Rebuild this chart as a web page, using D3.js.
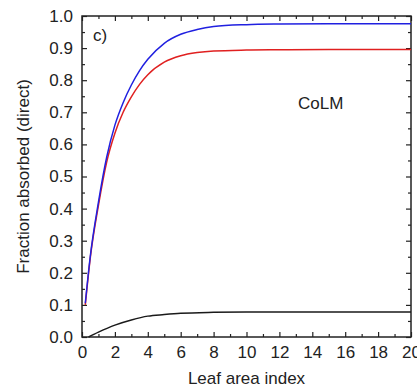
<!DOCTYPE html>
<html>
<head>
<meta charset="utf-8">
<script src="https://cdn.jsdelivr.net/npm/d3@7"></script>
<style>
    body { margin: 0; background: #fff; }
    svg { display: block; font-family: "Liberation Sans", Arial, sans-serif; }
</style>
</head>
<body>
<svg width="417" height="390"></svg>
<script>
// Leaf area index (x) and absorbed fractions per curve
const laiCurve = [0.2, 0.5, 1, 1.5, 2, 2.5, 3, 3.5, 4, 5, 6, 7, 8, 10, 12, 15, 20];
const blueValues = [0.105, 0.25, 0.42, 0.56, 0.66, 0.73, 0.785, 0.83, 0.865, 0.915, 0.943, 0.958, 0.967, 0.973, 0.975, 0.976, 0.976];
const redValues = [0.1, 0.245, 0.41, 0.545, 0.635, 0.7, 0.748, 0.787, 0.817, 0.856, 0.876, 0.886, 0.891, 0.894, 0.895, 0.896, 0.896];
const laiBlack = [0.4, 1, 2, 3, 4, 5, 6, 8, 10, 20];
const blackValues = [0, 0.015, 0.037, 0.053, 0.065, 0.07, 0.074, 0.077, 0.078, 0.078];

const xTicks = [0, 2, 4, 6, 8, 10, 12, 14, 16, 18, 20];
const yTicks = [0, 0.1, 0.2, 0.3, 0.4, 0.5, 0.6, 0.7, 0.8, 0.9, 1.0];

const svg = d3.select("svg");
const area = { left: 82, right: 411, top: 16, bottom: 337 };

const scaleX = d3.scaleLinear().domain([0, 20]).range([area.left, area.right]);
const scaleY = d3.scaleLinear().domain([0, 1]).range([area.bottom, area.top]);

// ticks point inward on all four sides
function drawTicks(axis, translate) {
    const g = svg.append("g").attr("transform", translate);
    g.call(axis);
    g.select(".domain").remove();
    g.selectAll("line").attr("stroke", "#222").attr("stroke-width", 1.2);
    return g;
}

const xMinor = d3.range(1, 20, 2);
const yMinor = d3.range(0.05, 1, 0.1);

// bottom
const gxb = drawTicks(d3.axisBottom(scaleX).tickValues(xTicks).tickSize(-5).tickPadding(9).tickFormat(d3.format("d")),
    `translate(0,${area.bottom})`);
gxb.selectAll("text").attr("font-size", 17).attr("fill", "#222");
drawTicks(d3.axisBottom(scaleX).tickValues(xMinor).tickSize(-3).tickFormat(""), `translate(0,${area.bottom})`);
// top
drawTicks(d3.axisTop(scaleX).tickValues(xTicks).tickSize(-5).tickFormat(""), `translate(0,${area.top})`);
drawTicks(d3.axisTop(scaleX).tickValues(xMinor).tickSize(-3).tickFormat(""), `translate(0,${area.top})`);
// left
const gyl = drawTicks(d3.axisLeft(scaleY).tickValues(yTicks).tickSize(-5).tickPadding(9).tickFormat(d3.format(".1f")),
    `translate(${area.left},0)`);
gyl.selectAll("text").attr("font-size", 17).attr("fill", "#222");
drawTicks(d3.axisLeft(scaleY).tickValues(yMinor).tickSize(-3).tickFormat(""), `translate(${area.left},0)`);
// right
drawTicks(d3.axisRight(scaleY).tickValues(yTicks).tickSize(-5).tickFormat(""), `translate(${area.right},0)`);
drawTicks(d3.axisRight(scaleY).tickValues(yMinor).tickSize(-3).tickFormat(""), `translate(${area.right},0)`);

svg.append("rect")
    .attr("x", area.left)
    .attr("y", area.top)
    .attr("width", area.right - area.left)
    .attr("height", area.bottom - area.top)
    .attr("fill", "none")
    .attr("stroke", "#222")
    .attr("stroke-width", 1.5);

const line = d3.line()
    .x(d => scaleX(d[0]))
    .y(d => scaleY(d[1]))
    .curve(d3.curveMonotoneX);

const series = [
    { x: laiBlack, y: blackValues, color: "#1a1a1a" },
    { x: laiCurve, y: redValues, color: "#e02020" },
    { x: laiCurve, y: blueValues, color: "#2020e0" }
];

series.forEach(s => {
    svg.append("path")
        .datum(s.x.map((v, i) => [v, s.y[i]]))
        .attr("fill", "none")
        .attr("stroke", s.color)
        .attr("stroke-width", 1.5)
        .attr("d", line);
});

svg.append("text")
    .attr("x", 93)
    .attr("y", 41)
    .attr("font-size", 17)
    .attr("fill", "#222")
    .text("c)");

svg.append("text")
    .attr("x", 298)
    .attr("y", 109)
    .attr("font-size", 17)
    .attr("fill", "#222")
    .text("CoLM");

svg.append("text")
    .attr("x", (area.left + area.right) / 2)
    .attr("y", 384)
    .attr("text-anchor", "middle")
    .attr("font-size", 17)
    .attr("fill", "#222")
    .text("Leaf area index");

svg.append("text")
    .attr("transform", `translate(29,${(area.top + area.bottom) / 2}) rotate(-90)`)
    .attr("text-anchor", "middle")
    .attr("font-size", 17)
    .attr("fill", "#222")
    .text("Fraction absorbed (direct)");
</script>
</body>
</html>
